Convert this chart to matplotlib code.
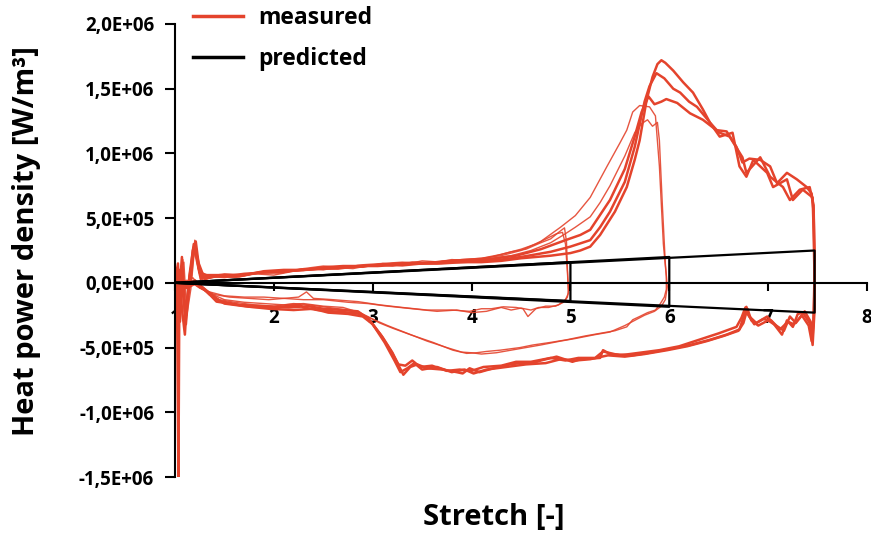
import matplotlib
matplotlib.use('Agg')
import matplotlib.pyplot as plt
import numpy as np
from matplotlib.lines import Line2D

# ---------------- data (x = stretch, y in units of 1e5 W/m^3) ----------------
Y_UNIT = 1e5

x_ticks = [1, 2, 3, 4, 5, 6, 7, 8]
x_tick_labels = ['1', '2', '3', '4', '5', '6', '7', '8']
y_ticks = [-1.5e6, -1.0e6, -0.5e6, 0.0, 0.5e6, 1.0e6, 1.5e6, 2.0e6]
y_tick_labels = ['-1,5E+06', '-1,0E+06', '-5,0E+05', '0,0E+00',
                 '5,0E+05', '1,0E+06', '1,5E+06', '2,0E+06']
legend_labels = ['measured', 'predicted']

# predicted loops: max stretch, value at end of loading line, value at start of unloading line
pred_lambda = [5.0, 6.0, 7.47]
pred_upper = [1.6, 2.0, 2.5]
pred_lower = [-1.4, -1.85, -2.3]

# measured cycles (x, y) ; group A: max stretch 5
meas_a1 = [(1.00,0.0),(1.02,0.8),(1.04,-1.5),(1.06,1.2),(1.09,1.6),(1.12,-2.5),(1.16,-0.5),(1.20,2.8),(1.24,0.8),(1.30,0.3),(1.45,0.5),(1.60,0.4),(1.80,0.7),(2.00,0.6),(2.20,0.9),(2.40,1.0),(2.60,1.2),(2.80,1.1),(3.00,1.4),(3.20,1.3),(3.40,1.6),(3.60,1.5),(3.80,1.8),(4.00,1.7),(4.20,2.0),(4.40,2.4),(4.55,2.6),(4.70,3.1),(4.80,3.4),(4.88,3.9),(4.94,4.25),(4.96,3.2),(4.97,1.0),(4.98,-0.6),(4.97,-1.1),(4.93,-1.5),(4.85,-1.8),(4.75,-1.8),(4.65,-2.0),(4.57,-2.6),(4.52,-2.0),(4.45,-1.9),(4.32,-1.85),(4.20,-2.0),(4.10,-2.0),(3.98,-2.2),(3.80,-2.1),(3.55,-2.1),(3.30,-1.9),(3.07,-1.7),(2.85,-1.45),(2.60,-1.3),(2.40,-1.2),(2.33,-0.7),(2.25,-1.1),(2.10,-1.2),(1.90,-1.1),(1.70,-1.1),(1.50,-1.0),(1.35,-0.7),(1.25,-0.4),(1.15,0.2),(1.05,-0.2),(1.00,0.0)]
meas_a2 = [(1.00,0.0),(1.03,-0.8),(1.05,1.0),(1.08,-1.0),(1.10,-3.0),(1.14,0.5),(1.18,2.0),(1.21,3.1),(1.25,0.5),(1.32,0.5),(1.50,0.4),(1.70,0.6),(1.90,0.8),(2.10,0.8),(2.30,1.1),(2.50,1.0),(2.70,1.3),(2.90,1.2),(3.10,1.5),(3.30,1.4),(3.50,1.7),(3.70,1.6),(3.90,1.8),(4.10,1.9),(4.30,2.2),(4.50,2.6),(4.65,3.0),(4.78,3.5),(4.86,3.8),(4.92,3.9),(4.95,3.0),(4.97,0.8),(4.98,-0.8),(4.95,-1.3),(4.88,-1.7),(4.78,-1.9),(4.68,-1.9),(4.60,-2.1),(4.50,-1.95),(4.40,-2.1),(4.30,-1.9),(4.15,-2.2),(4.00,-2.3),(3.85,-2.1),(3.65,-2.2),(3.40,-2.0),(3.15,-1.8),(2.95,-1.6),(2.75,-1.5),(2.50,-1.3),(2.30,-1.3),(2.10,-1.2),(1.95,-1.3),(1.75,-1.2),(1.55,-1.1),(1.40,-0.9),(1.28,-0.5),(1.18,0.4),(1.08,-0.3),(1.00,0.0)]
# group B: max stretch 6
meas_b1 = [(1.00,0.0),(1.02,1.2),(1.05,-1.0),(1.08,1.8),(1.10,-3.5),(1.13,-1.2),(1.17,0.6),(1.20,3.3),(1.24,0.9),(1.30,0.4),(1.50,0.7),(1.70,0.6),(1.90,0.9),(2.10,0.8),(2.30,1.1),(2.50,1.3),(2.70,1.2),(2.90,1.4),(3.10,1.5),(3.30,1.6),(3.50,1.5),(3.70,1.7),(3.90,1.8),(4.10,1.9),(4.30,2.1),(4.50,2.5),(4.70,3.2),(4.90,4.3),(5.05,5.2),(5.20,6.6),(5.37,9.0),(5.50,10.8),(5.57,11.8),(5.63,13.2),(5.70,13.7),(5.80,13.6),(5.86,12.9),(5.90,9.0),(5.94,3.0),(5.97,0.5),(5.97,-0.5),(5.95,-1.1),(5.91,-1.6),(5.86,-2.1),(5.78,-2.3),(5.70,-2.6),(5.63,-2.85),(5.57,-3.4),(5.45,-3.7),(5.30,-3.9),(5.15,-4.1),(4.96,-4.4),(4.80,-4.6),(4.62,-4.8),(4.49,-5.0),(4.29,-5.2),(4.15,-5.3),(4.05,-5.4),(3.95,-5.45),(3.81,-5.2),(3.61,-4.6),(3.38,-4.0),(3.20,-3.5),(3.07,-3.1),(2.95,-2.6),(2.87,-2.3),(2.70,-1.9),(2.50,-1.8),(2.30,-1.6),(2.10,-1.7),(1.90,-1.6),(1.70,-1.5),(1.50,-1.3),(1.35,-0.8),(1.25,-0.4),(1.15,0.1),(1.00,0.0)]
meas_b2 = [(1.00,0.0),(1.03,0.5),(1.05,-2.0),(1.07,1.0),(1.11,-2.8),(1.15,0.0),(1.19,2.6),(1.23,1.2),(1.28,0.2),(1.40,0.5),(1.60,0.6),(1.80,0.7),(2.00,0.9),(2.20,0.9),(2.40,1.1),(2.60,1.2),(2.80,1.3),(3.00,1.3),(3.20,1.5),(3.40,1.6),(3.60,1.6),(3.80,1.7),(4.00,1.8),(4.20,1.9),(4.40,2.1),(4.60,2.5),(4.80,3.1),(4.95,3.8),(5.05,4.3),(5.20,5.1),(5.30,6.2),(5.40,7.5),(5.55,9.8),(5.65,11.6),(5.72,12.3),(5.78,12.6),(5.83,12.1),(5.88,12.4),(5.90,11.0),(5.93,6.0),(5.96,1.5),(5.98,-0.3),(5.96,-1.3),(5.92,-1.8),(5.85,-2.2),(5.75,-2.5),(5.65,-2.9),(5.55,-3.3),(5.40,-3.8),(5.25,-4.0),(5.05,-4.3),(4.90,-4.5),(4.70,-4.8),(4.55,-5.0),(4.40,-5.2),(4.25,-5.4),(4.10,-5.5),(4.00,-5.4),(3.90,-5.35),(3.75,-5.0),(3.55,-4.5),(3.35,-3.9),(3.15,-3.3),(3.00,-2.8),(2.88,-2.4),(2.75,-2.1),(2.55,-1.9),(2.35,-1.7),(2.20,-1.6),(2.00,-1.8),(1.80,-1.7),(1.60,-1.5),(1.45,-1.3),(1.32,-0.7),(1.22,-0.2),(1.12,0.2),(1.00,0.0)]
# group C: max stretch 7.47
meas_c1 = [(1.00,0.0),(1.02,-0.5),(1.035,-15.0),(1.045,1.0),(1.07,-2.0),(1.10,-4.0),(1.12,-1.5),(1.15,0.8),(1.19,3.0),(1.22,2.0),(1.26,0.3),(1.30,0.5),(1.50,0.5),(1.70,0.7),(1.90,0.8),(2.10,0.9),(2.30,1.0),(2.50,1.1),(2.70,1.2),(2.90,1.3),(3.10,1.4),(3.30,1.35),(3.50,1.5),(3.70,1.5),(3.90,1.6),(4.10,1.6),(4.30,1.7),(4.50,1.9),(4.80,2.1),(5.00,2.3),(5.10,2.5),(5.20,2.8),(5.30,3.7),(5.45,5.5),(5.57,7.4),(5.65,9.5),(5.70,11.0),(5.77,14.1),(5.83,15.9),(5.88,16.9),(5.92,17.2),(5.96,17.0),(6.04,16.4),(6.14,15.5),(6.24,14.7),(6.34,13.4),(6.41,12.4),(6.48,11.8),(6.58,11.7),(6.68,10.5),(6.74,9.3),(6.81,9.6),(6.92,9.5),(7.02,9.0),(7.09,7.7),(7.19,8.5),(7.29,8.0),(7.39,7.4),(7.44,6.9),(7.46,5.5),(7.47,2.0),(7.47,-2.0),(7.45,-4.8),(7.42,-3.1),(7.35,-2.3),(7.30,-2.4),(7.25,-3.4),(7.19,-2.9),(7.14,-4.0),(7.05,-3.1),(6.99,-2.6),(6.88,-3.1),(6.81,-2.6),(6.78,-1.85),(6.74,-2.9),(6.71,-3.6),(6.58,-4.0),(6.41,-4.4),(6.21,-4.8),(6.01,-5.1),(5.80,-5.4),(5.63,-5.6),(5.40,-5.5),(5.33,-5.2),(5.30,-5.8),(5.10,-5.9),(5.02,-6.1),(4.86,-5.7),(4.70,-6.0),(4.62,-6.2),(4.49,-6.2),(4.39,-6.3),(4.22,-6.6),(4.08,-6.9),(3.98,-6.6),(3.91,-7.0),(3.85,-6.9),(3.71,-6.7),(3.55,-6.6),(3.45,-6.3),(3.38,-6.5),(3.31,-7.1),(3.27,-6.5),(3.20,-5.4),(3.10,-4.2),(2.97,-2.9),(2.87,-2.4),(2.77,-2.3),(2.60,-2.2),(2.44,-2.1),(2.30,-1.9),(2.26,-1.7),(2.00,-1.9),(1.76,-1.85),(1.42,-1.45),(1.30,-0.5),(1.20,0.2),(1.10,-0.3),(1.00,0.0)]
meas_c2 = [(1.00,0.0),(1.03,1.5),(1.05,-3.0),(1.08,0.5),(1.11,-3.2),(1.14,-0.5),(1.18,2.5),(1.21,3.2),(1.25,0.8),(1.32,0.6),(1.50,0.6),(1.70,0.6),(1.90,0.9),(2.10,1.0),(2.30,1.0),(2.50,1.2),(2.70,1.3),(2.90,1.3),(3.10,1.4),(3.30,1.5),(3.50,1.5),(3.70,1.6),(3.90,1.6),(4.10,1.7),(4.30,1.8),(4.50,2.0),(4.80,2.4),(5.00,2.8),(5.20,3.3),(5.30,4.3),(5.40,5.5),(5.55,7.8),(5.65,10.5),(5.75,14.0),(5.80,15.2),(5.87,16.2),(5.95,15.8),(6.04,15.0),(6.11,14.7),(6.20,14.0),(6.28,13.6),(6.40,12.5),(6.51,11.3),(6.64,11.6),(6.71,9.0),(6.78,8.2),(6.85,9.5),(6.99,8.5),(7.05,7.4),(7.19,8.0),(7.25,6.4),(7.35,7.2),(7.45,6.6),(7.46,4.0),(7.47,0.0),(7.46,-3.0),(7.44,-4.5),(7.41,-3.3),(7.34,-2.5),(7.28,-3.1),(7.22,-2.6),(7.16,-3.7),(7.08,-3.3),(7.00,-2.9),(6.90,-3.3),(6.83,-2.9),(6.79,-2.0),(6.75,-3.1),(6.70,-3.7),(6.55,-4.1),(6.38,-4.5),(6.18,-4.9),(5.98,-5.2),(5.75,-5.5),(5.55,-5.7),(5.38,-5.6),(5.20,-5.9),(5.05,-6.0),(4.90,-5.9),(4.75,-6.2),(4.55,-6.3),(4.35,-6.5),(4.15,-6.7),(4.02,-7.0),(3.93,-6.7),(3.80,-6.9),(3.65,-6.5),(3.50,-6.7),(3.42,-6.2),(3.35,-6.6),(3.28,-6.9),(3.22,-6.0),(3.12,-4.6),(3.00,-3.2),(2.90,-2.6),(2.75,-2.4),(2.55,-2.3),(2.40,-2.0),(2.20,-2.1),(1.95,-2.0),(1.70,-1.8),(1.50,-1.6),(1.35,-0.9),(1.22,0.0),(1.12,-0.4),(1.00,0.0)]
meas_c3 = [(1.00,0.0),(1.02,1.0),(1.04,-1.2),(1.07,2.0),(1.10,-2.2),(1.13,-1.0),(1.17,1.5),(1.20,2.8),(1.24,1.5),(1.30,0.3),(1.45,0.6),(1.65,0.5),(1.85,0.8),(2.05,0.8),(2.25,1.0),(2.45,1.1),(2.65,1.1),(2.85,1.3),(3.05,1.3),(3.25,1.4),(3.45,1.5),(3.65,1.5),(3.85,1.7),(4.05,1.7),(4.25,1.9),(4.45,2.1),(4.70,2.6),(4.95,3.3),(5.10,3.7),(5.20,4.1),(5.40,6.4),(5.55,8.8),(5.65,11.3),(5.72,13.2),(5.79,14.4),(5.85,13.8),(5.92,14.0),(5.97,14.2),(6.08,13.9),(6.21,13.1),(6.34,12.6),(6.51,11.6),(6.61,11.3),(6.74,9.7),(6.78,8.5),(6.92,9.7),(7.02,8.2),(7.15,7.4),(7.22,6.4),(7.32,7.2),(7.42,7.4),(7.46,6.0),(7.47,1.0),(7.46,-2.5),(7.45,-4.2),(7.43,-3.0),(7.37,-2.2),(7.31,-2.8),(7.26,-3.2),(7.20,-3.0),(7.12,-3.6),(7.03,-2.9),(6.95,-2.8),(6.86,-3.2),(6.80,-2.5),(6.77,-1.9),(6.73,-2.7),(6.68,-3.4),(6.50,-3.9),(6.30,-4.4),(6.10,-4.9),(5.90,-5.2),(5.70,-5.4),(5.50,-5.6),(5.33,-5.3),(5.25,-5.8),(5.08,-5.8),(4.95,-6.0),(4.80,-5.8),(4.60,-6.1),(4.45,-6.1),(4.30,-6.4),(4.12,-6.5),(4.00,-6.8),(3.88,-6.7),(3.75,-6.8),(3.60,-6.4),(3.48,-6.5),(3.40,-6.0),(3.33,-6.4),(3.26,-6.3),(3.18,-5.2),(3.08,-4.0),(2.96,-2.8),(2.85,-2.2),(2.70,-2.1),(2.50,-2.0),(2.35,-1.8),(2.15,-1.9),(1.90,-1.8),(1.65,-1.7),(1.45,-1.4),(1.32,-0.6),(1.20,0.1),(1.10,-0.2),(1.00,0.0)]

# ---------------- style ----------------
RED = '#e4432c'
plt.rcParams['font.family'] = ['Open Sans', 'DejaVu Sans']
plt.rcParams['font.weight'] = 'bold'

fig = plt.figure(figsize=(8.71, 5.37), dpi=100)
ax = fig.add_axes([175/871, 1-477/537, (867-175)/871, (477-24)/537])

thin_cycles = [meas_a1, meas_a2, meas_b1, meas_b2]
thick_cycles = [meas_c1, meas_c2, meas_c3]
for cyc in thin_cycles:
    arr = np.array(cyc)
    ax.plot(arr[:, 0], arr[:, 1] * Y_UNIT, color=RED, lw=1.0, alpha=0.9,
            solid_joinstyle='round', zorder=3)
for cyc in thick_cycles:
    arr = np.array(cyc)
    ax.plot(arr[:, 0], arr[:, 1] * Y_UNIT, color=RED, lw=1.8,
            solid_joinstyle='round', zorder=3)

for lam, up, lo in zip(pred_lambda, pred_upper, pred_lower):
    ax.plot([1.0, lam, lam, 1.0], [0.0, up * Y_UNIT, lo * Y_UNIT, 0.0],
            color='black', lw=1.6, zorder=4)

ax.set_xlim(1, 8)
ax.set_ylim(-1.5e6, 2.0e6)
ax.spines['bottom'].set_position(('data', 0))
ax.spines['top'].set_visible(False)
ax.spines['right'].set_visible(False)
for s in ('left', 'bottom'):
    ax.spines[s].set_linewidth(1.5)
    ax.spines[s].set_zorder(5)

ax.set_xticks(x_ticks)
ax.set_xticklabels(x_tick_labels)
ax.set_yticks(y_ticks)
ax.set_yticklabels(y_tick_labels)
ax.tick_params(axis='x', direction='out', length=6, width=1.5, pad=12, labelsize=13.5)
ax.tick_params(axis='y', direction='out', length=7, width=1.5, pad=8, labelsize=13.5)
for lab in ax.get_xticklabels() + ax.get_yticklabels():
    lab.set_fontweight('bold')

fig.text(27/871, 1-241/537, 'Heat power density [W/m³]', rotation=90,
         ha='center', va='center', fontsize=21, fontweight='bold')
fig.text(494/871, 1-517/537, 'Stretch [-]', ha='center', va='center',
         fontsize=21, fontweight='bold')

handles = [Line2D([], [], color=RED, lw=2.5), Line2D([], [], color='black', lw=2.5)]
fig.legend(handles, legend_labels, loc='upper left', bbox_to_anchor=(193/871, 0.989),
           frameon=False, fontsize=16.5, handlelength=2.18, handletextpad=0.65,
           labelspacing=0.75, borderpad=0, borderaxespad=0)

fig.savefig('out.png', dpi=100)
